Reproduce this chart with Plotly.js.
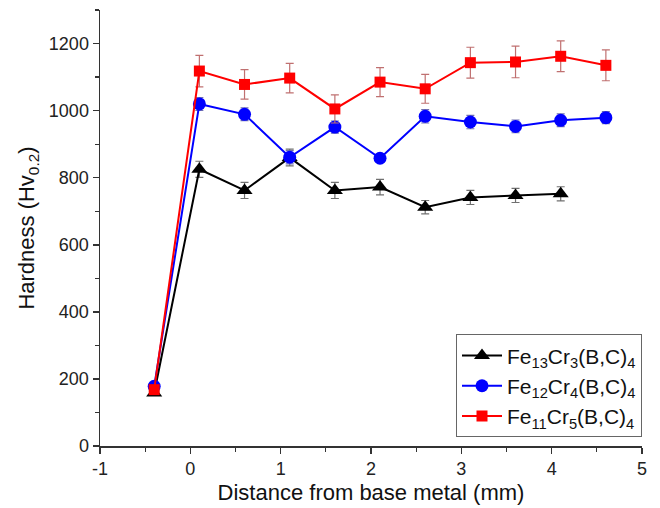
<!DOCTYPE html>
<html>
<head>
<meta charset="utf-8">
<script src="https://cdn.plot.ly/plotly-3.0.1.min.js"></script>
<style>html,body{margin:0;padding:0;background:#fff;}#chart{width:660px;height:508px;}</style>
</head>
<body>
<div id="chart"></div>
<script>
// Data
const distance = [-0.4, 0.1, 0.6, 1.1, 1.6, 2.1, 2.6, 3.1, 3.6, 4.1, 4.6];

const names = [
  "Fe<sub>13</sub>Cr<sub>3</sub>(B,C)<sub>4</sub>",
  "Fe<sub>12</sub>Cr<sub>4</sub>(B,C)<sub>4</sub>",
  "Fe<sub>11</sub>Cr<sub>5</sub>(B,C)<sub>4</sub>"
];

const fe13Hardness = [158, 825, 762, 860, 762, 772, 712, 741, 747, 752];
const fe13Error    = [5, 24, 24, 25, 24, 23, 20, 21, 21, 21];

const fe12Hardness = [178, 1020, 989, 861, 951, 858, 983, 966, 953, 971, 979];
const fe12Error    = [8, 19, 19, 20, 18, 12, 20, 20, 19, 19, 18];

const fe11Hardness = [168, 1118, 1078, 1097, 1005, 1085, 1065, 1143, 1145, 1162, 1135];
const fe11Error    = [12, 47, 44, 44, 42, 43, 43, 46, 47, 46, 46];

const xTickVals = [-1, 0, 1, 2, 3, 4, 5];
const xTickText = ["-1", "0", "1", "2", "3", "4", "5"];

function series(y, err, name, color, errColor, symbol, size) {
  return {
    x: distance.slice(0, y.length),
    y: y,
    name: name,
    type: 'scatter',
    mode: 'lines+markers',
    line: {color: color, width: 2},
    marker: {color: color, symbol: symbol, size: size},
    error_y: {type: 'data', array: err, visible: true, color: errColor, thickness: 1.2, width: 4}
  };
}

const traces = [
  series(fe13Hardness, fe13Error, names[0], '#000000', '#707070', 'triangle-up', 14),
  series(fe12Hardness, fe12Error, names[1], '#0000ff', '#7070b0', 'circle', 13),
  series(fe11Hardness, fe11Error, names[2], '#ff0000', '#c07070', 'square', 11)
];

const FONT = 'Liberation Sans, Arial, sans-serif';
const axisFont = {family: FONT, size: 18, color: '#222'};

const layout = {
  width: 660, height: 508,
  margin: {l: 100, r: 18, t: 10, b: 62},
  paper_bgcolor: '#fff', plot_bgcolor: '#fff',
  font: {family: FONT, color: '#222'},
  showlegend: true,
  legend: {
    x: 1, xanchor: 'right', y: 0.02, yanchor: 'bottom',
    bordercolor: '#666', borderwidth: 1, bgcolor: '#fff',
    font: {size: 21, family: FONT, color: '#111'},
    tracegroupgap: 0, itemwidth: 40
  },
  xaxis: {
    range: [-1, 5], tickmode: 'array', tickvals: xTickVals, ticktext: xTickText,
    showline: true, linecolor: '#333', linewidth: 1.5,
    ticks: 'outside', ticklen: 6, tickwidth: 1.5, tickcolor: '#333',
    minor: {dtick: 0.5, tick0: 0, ticks: 'outside', ticklen: 4, tickwidth: 1.2, tickcolor: '#333'},
    showgrid: false, zeroline: false, mirror: false,
    tickfont: axisFont,
    title: {text: 'Distance from base metal (mm)', font: {size: 22, family: FONT, color: '#111'}, standoff: 6}
  },
  yaxis: {
    range: [0, 1300], dtick: 200, tick0: 0,
    showline: true, linecolor: '#333', linewidth: 1.5,
    ticks: 'outside', ticklen: 6, tickwidth: 1.5, tickcolor: '#333',
    minor: {dtick: 100, ticks: 'outside', ticklen: 4, tickwidth: 1.2, tickcolor: '#333'},
    showgrid: false, zeroline: false, mirror: false,
    tickfont: axisFont,
    title: {text: 'Hardness (Hv<sub>0.2</sub>)', font: {size: 22, family: FONT, color: '#111'}, standoff: 8}
  }
};

Plotly.newPlot('chart', traces, layout, {displayModeBar: false, staticPlot: true});
</script>
</body>
</html>
